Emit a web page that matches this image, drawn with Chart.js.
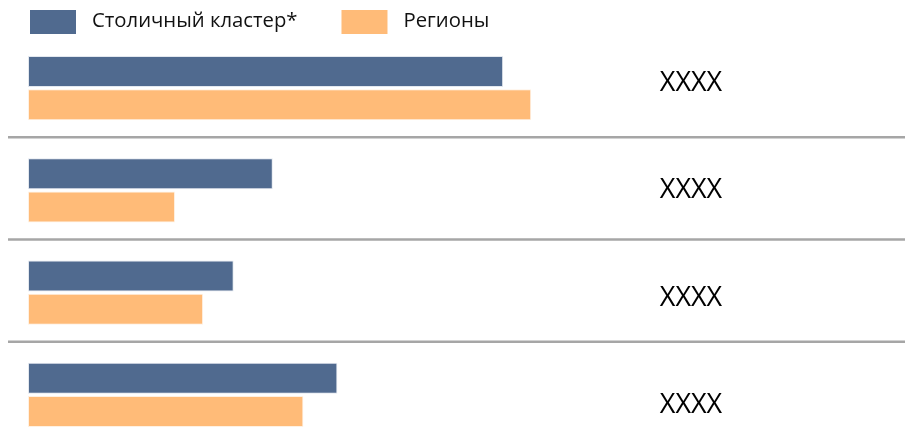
<!DOCTYPE html>
<html>
<head>
<meta charset="utf-8">
<script src="https://cdn.jsdelivr.net/npm/chart.js@4"></script>
<style>
  html, body { margin: 0; padding: 0; background: #fff; overflow: hidden; width: 905px; height: 438px; }
  #wrap { width: 905px; height: 448px; position: relative; }
</style>
</head>
<body>
<div id="wrap"><canvas id="c" width="905" height="448"></canvas></div>
<script>
const categories = ['Группа 1', 'Группа 2', 'Группа 3', 'Группа 4'];
const capitalValues = [55.9, 28.8, 24.2, 36.4];
const regionValues = [59.2, 17.3, 20.6, 32.4];
const rightLabels = ['XXXX', 'XXXX', 'XXXX', 'XXXX'];
const seriesNames = ['Столичный кластер*', 'Регионы'];
const colors = ['#506A8F', '#FFBB78'];

const legendPlugin = {
  id: 'customLegend',
  afterDraw(chart) {
    const ctx = chart.ctx;
    ctx.save();
    ctx.font = '20.3px "Open Sans"';
    ctx.textBaseline = 'middle';
    ctx.textAlign = 'left';
    let x = 30;
    chart.data.datasets.forEach(ds => {
      ctx.fillStyle = ds.backgroundColor;
      ctx.fillRect(x, 10, 46, 24);
      ctx.fillStyle = '#111';
      ctx.fillText(ds.label, x + 62, 21);
      x = x + 62 + ctx.measureText(ds.label).width + 44;
    });
    ctx.restore();
  }
};

const separatorPlugin = {
  id: 'separators',
  beforeDatasetsDraw(chart) {
    const ctx = chart.ctx;
    const y = chart.scales.y;
    ctx.save();
    ctx.strokeStyle = '#A6A6A6';
    ctx.lineWidth = 2.5;
    for (let i = 0; i < categories.length - 1; i++) {
      const yy = (y.getPixelForValue(i) + y.getPixelForValue(i + 1)) / 2 - 2;
      ctx.beginPath();
      ctx.moveTo(8, yy);
      ctx.lineTo(chart.width, yy);
      ctx.stroke();
    }
    ctx.restore();
  }
};

const rightLabelPlugin = {
  id: 'rightLabels',
  afterDraw(chart) {
    const ctx = chart.ctx;
    const y = chart.scales.y;
    const mid = (chart.chartArea.top + chart.chartArea.bottom) / 2;
    ctx.save();
    ctx.font = '27px "Open Sans"';
    ctx.fillStyle = '#000';
    ctx.textAlign = 'center';
    ctx.textBaseline = 'alphabetic';
    rightLabels.forEach((t, i) => {
      const c = y.getPixelForValue(i);
      const center = c + (c - mid) * 0.05 + 1;
      ctx.fillText(t, 691, center + 9.6);
    });
    ctx.restore();
  }
};

new Chart(document.getElementById('c'), {
  type: 'bar',
  data: {
    labels: categories,
    datasets: [
      { label: seriesNames[0], data: capitalValues, backgroundColor: colors[0], borderColor: '#E3E8EF', borderWidth: 1, borderSkipped: false },
      { label: seriesNames[1], data: regionValues, backgroundColor: colors[1], borderColor: '#FFF1E2', borderWidth: 1, borderSkipped: false }
    ]
  },
  options: {
    indexAxis: 'y',
    responsive: false,
    animation: false,
    devicePixelRatio: 1,
    layout: { padding: { top: 37, left: 28, right: 27, bottom: 2 } },
    datasets: { bar: { categoryPercentage: 0.65, barPercentage: 0.93 } },
    plugins: { legend: { display: false }, tooltip: { enabled: false } },
    scales: {
      x: { display: false, min: 0, max: 100 },
      y: { display: false }
    }
  },
  plugins: [separatorPlugin, legendPlugin, rightLabelPlugin]
});
</script>
</body>
</html>
